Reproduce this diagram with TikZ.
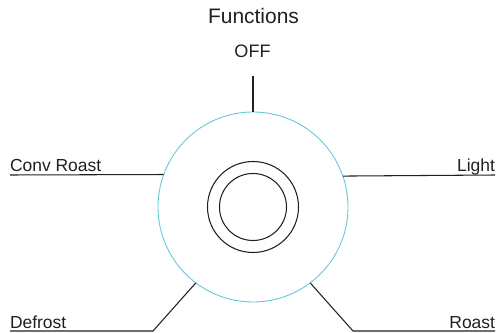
\documentclass[tikz,border=0pt]{standalone}
\usepackage{fontspec}
\setmainfont{Liberation Sans}
\usepackage{xcolor}
\definecolor{dial-cyan}{HTML}{66C6D6}
\definecolor{line-black}{HTML}{231F20}

\begin{document}
\begin{tikzpicture}[x=0.03cm, y=0.03cm,
      every node/.style={font=\fontsize{14.9pt}{17pt}\selectfont, text=line-black,
                         inner sep=0pt, outer sep=0pt}]
    \useasboundingbox (0,0) rectangle (499,332);
    \node[draw=dial-cyan, line width=0.75pt, circle, minimum size=5.7cm] (dial) at (253,125) {};
    \node[draw=line-black, line width=0.9pt, circle, minimum size=2.73cm] (ringout) at (253,125) {};
    \node[draw=line-black, line width=0.9pt, circle, minimum size=2.01cm] (ringin) at (253,125) {};
    \node[anchor=base, font=\fontsize{17.9pt}{20pt}\selectfont] (title) at (253.5,308) {Functions};
    \node[anchor=base, font=\fontsize{15.4pt}{18pt}\selectfont] (off) at (252.5,274.5) {OFF};
    \node[anchor=base west] (conv) at (10,160.5) {Conv Roast};
    \node[anchor=base east] (light) at (495,160.5) {Light};
    \node[anchor=base west] (defrost) at (10,3.5) {Defrost};
    \node[anchor=base east] (roast) at (495,3.5) {Roast};
    \coordinate (offend) at (253,256);
    \coordinate (convend) at (10,157);
    \coordinate (lightend) at (495,157);
    \coordinate (defrostknee) at (153,1);
    \coordinate (defrostend) at (10,1);
    \coordinate (roastknee) at (353,1);
    \coordinate (roastend) at (495,1);
    \draw[line-black, line width=0.9pt] (dial.north) -- (offend);
    \draw[line-black, line width=0.9pt] (dial.160.3) -- (convend);
    \draw[line-black, line width=0.9pt] (dial.19.7) -- (lightend);
    \draw[line-black, line width=0.9pt] (dial.233) -- (defrostknee) -- (defrostend);
    \draw[line-black, line width=0.9pt] (dial.-53) -- (roastknee) -- (roastend);
  \end{tikzpicture}
\end{document}
